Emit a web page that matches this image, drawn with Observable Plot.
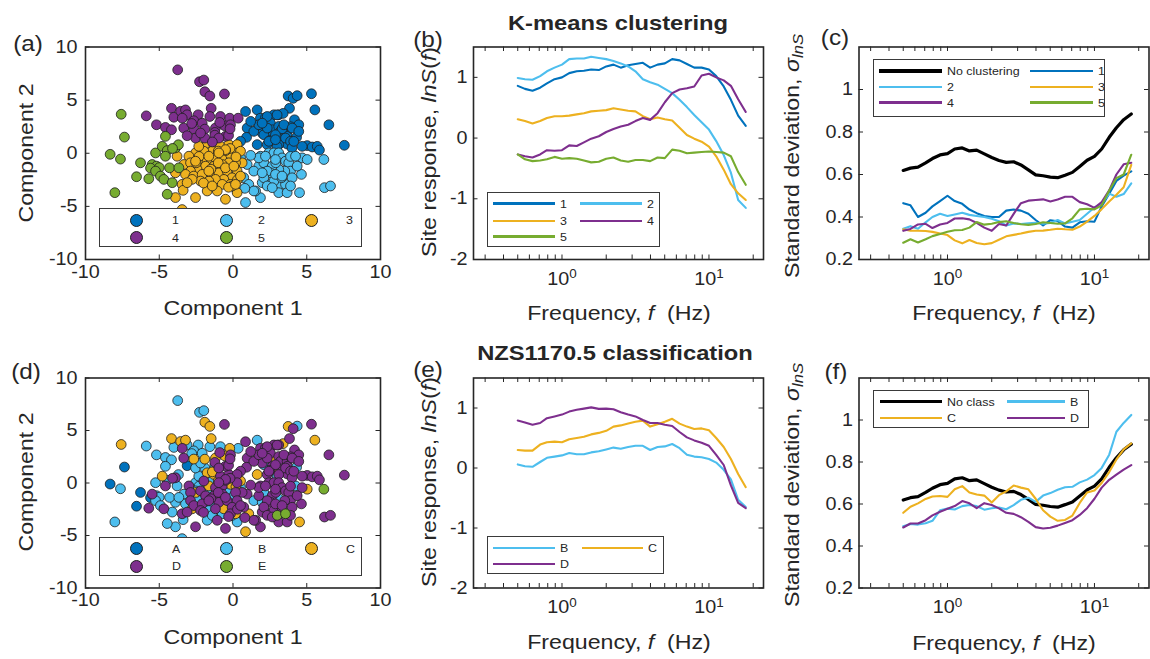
<!DOCTYPE html>
<html>
<head>
<meta charset="utf-8">
<script src="https://cdn.jsdelivr.net/npm/d3@7"></script>
<script src="https://cdn.jsdelivr.net/npm/@observablehq/plot@0.6"></script>
<style>
  body { margin: 0; background: #fff; }
  #fig { position: relative; width: 1150px; height: 659px; overflow: hidden; background: #fff;
         font-family: "Liberation Sans", Arial, sans-serif; color: #262626; }
  #fig svg { position: absolute; }
  .lbl { position: absolute; white-space: nowrap; line-height: 1; }
  .legend { position: absolute; background: #fff; border: 1px solid #3a3a3a; box-sizing: border-box; }
  .swatch { position: absolute; }
  .mk { position: absolute; border-radius: 50%; border: 0.8px solid #1e1e1e; box-sizing: border-box; }
</style>
</head>
<body>
<div id="fig"></div>
<script>
// ---------- colours ----------
const C1 = "#0072BD", C2 = "#4DBEEE", C3 = "#EDB120", C4 = "#7E2F8E", C5 = "#77AC30";
const classColor = {A: C1, B: C2, C: C3, D: C4, E: C5};
const INK = "#262626";

// ---------- principal components of each site: [component 1, component 2, NZS1170.5 class] ----------
const cluster1 = [[3.74,5.39,"C"],[4.08,5.17,"D"],[4.35,5.42,"B"],[5.32,5.6,"D"],[5.55,4.08,"C"],[3.83,4.23,"D"],[6.5,2.68,"D"],[7.55,0.75,"D"],[1.64,4.08,"B"],[1.86,3.3,"D"],[2.2,3.35,"D"],[2.77,3.62,"D"],[3.1,3.62,"D"],[3.4,3.75,"C"],[4.17,3.15,"D"],[4.46,2.68,"D"],[1.75,2.52,"D"],[1.98,1.9,"D"],[2.54,2.83,"D"],[2.66,2.21,"C"],[3.1,2.52,"D"],[3.22,2.06,"D"],[3.67,2.06,"D"],[3.67,1.59,"D"],[2.66,1.59,"D"],[4.31,1.5,"B"],[5.03,0.72,"D"],[5.37,0.59,"D"],[5.71,0.65,"D"],[5.86,0.3,"D"],[3.33,1.34,"D"],[3.67,0.87,"D"],[3.1,0.81,"D"],[1.64,0.81,"C"],[0.85,3.93,"D"],[0.96,2.37,"D"],[0.92,1.5,"D"],[0.51,1.12,"D"],[1.41,2.06,"D"],[2.09,1.74,"B"],[2.32,3.46,"D"],[2.99,3.61,"D"],[1.75,2.68,"D"],[3.33,2.3,"C"],[3.56,1.43,"D"],[3.9,1.12,"D"],[2.99,0.65,"B"],[2.32,0.81,"D"],[1.2,3.0,"D"],[2.5,1.2,"D"],[4.0,0.5,"D"],[3.9,2.5,"D"],[2.32,2.37,"D"],[2.88,1.74,"D"],[3.45,2.68,"D"],[4.01,2.37,"D"],[2.43,1.12,"D"],[2.88,1.28,"C"],[4.69,0.65,"D"],[1.98,2.83,"D"],[4.12,1.12,"D"],[4.46,2.06,"D"]];
const cluster2 = [[1.86,-0.28,"D"],[1.75,-1.21,"D"],[2.09,-0.9,"B"],[2.43,0.03,"D"],[2.77,0.03,"D"],[3.1,0.03,"D"],[3.33,-0.44,"D"],[3.56,-0.75,"D"],[3.78,-0.9,"D"],[3.9,-1.68,"D"],[3.51,-1.68,"D"],[3.1,-1.52,"B"],[2.66,-1.21,"D"],[2.54,-1.84,"D"],[2.32,-1.68,"D"],[1.98,-2.77,"D"],[2.43,-2.93,"D"],[3.0,-3.08,"E"],[3.22,-2.93,"D"],[3.56,-2.93,"E"],[3.1,-3.71,"D"],[3.67,-3.71,"D"],[4.51,-3.71,"C"],[1.86,-4.18,"D"],[4.64,-1.99,"D"],[4.69,-0.44,"D"],[5.03,-0.59,"C"],[6.16,-0.59,"E"],[6.2,-3.24,"D"],[6.61,-3.08,"D"],[1.53,-3.55,"D"],[2.77,-2.62,"D"],[0.96,-1.06,"D"],[1.41,-1.68,"B"],[0.73,-2.3,"D"],[1.07,-2.93,"C"],[0.28,-3.55,"B"],[0.85,-4.64,"C"],[1.41,-3.55,"D"],[2.09,-2.3,"D"],[1.75,-0.43,"D"],[0.51,-0.43,"B"],[2.32,-3.08,"D"],[3.9,-0.3,"D"],[1.2,-0.2,"D"],[3.3,-2.3,"D"],[2.9,-0.9,"D"],[0.8,-3.3,"D"],[2.2,-0.28,"D"],[2.88,-0.59,"D"],[4.24,-0.28,"B"],[4.35,-1.21,"D"],[2.88,-1.99,"D"],[4.01,-2.31,"D"],[1.98,-1.84,"B"],[2.66,-3.24,"D"],[3.9,-3.08,"D"],[3.33,-2.15,"D"]];
const cluster3 = [[-1.75,0.97,"C"],[-1.3,0.81,"C"],[-0.85,0.65,"D"],[-0.28,0.81,"D"],[0.28,0.81,"D"],[-1.41,0.19,"B"],[-1.98,0.19,"D"],[-2.54,0.03,"B"],[-2.99,-0.28,"D"],[-3.33,-1.06,"B"],[-2.88,-0.9,"D"],[-2.2,-0.75,"D"],[-1.75,-0.59,"B"],[-1.19,-0.44,"D"],[-0.73,-0.28,"D"],[-0.17,-0.13,"C"],[0.28,0.03,"D"],[0.62,-0.9,"D"],[0.17,-0.9,"D"],[-0.28,-0.9,"B"],[-0.73,-1.06,"D"],[-1.3,-1.22,"D"],[-1.86,-1.22,"D"],[-2.43,-1.53,"B"],[-2.88,-1.68,"D"],[-3.22,-1.99,"B"],[-2.66,-2.15,"D"],[-2.09,-1.99,"D"],[-1.53,-1.84,"B"],[-0.96,-1.84,"D"],[-0.4,-1.68,"D"],[0.28,-1.68,"D"],[-0.06,-2.31,"D"],[-0.62,-2.46,"C"],[-1.19,-2.46,"D"],[-1.64,-2.62,"B"],[-2.2,-2.62,"D"],[-2.77,-2.46,"C"],[-0.17,-2.93,"D"],[-0.73,-2.93,"B"],[-1.75,-3.55,"B"],[-1.07,-3.55,"D"],[-0.51,-4.33,"D"],[0.28,-3.71,"B"],[0.51,0.19,"C"],[-3.79,-0.28,"B"],[-3.9,-1.84,"B"],[-3.9,-4.17,"B"],[-2.54,-4.17,"D"],[-3.45,-2.93,"D"],[-3.38,-3.49,"B"],[-0.05,-3.08,"B"],[-3.45,-5.3,"B"],[-0.2,0.45,"D"],[0.2,-0.35,"C"],[-0.5,0.25,"D"],[-1.0,0.2,"C"],[-2.3,-0.3,"B"],[-1.5,-1.5,"D"],[-2.0,-2.8,"D"],[0.3,-2.5,"D"],[-0.3,-3.2,"D"],[-1.0,-0.9,"D"],[-2.5,-0.9,"C"],[-2.32,0.65,"B"],[-0.51,0.34,"D"],[-0.96,0.03,"D"],[-1.64,-0.28,"C"],[-2.54,-0.75,"B"],[-0.51,-1.37,"D"],[-1.64,-1.68,"D"],[0.06,-1.22,"B"],[-3.11,-2.77,"D"],[-1.41,-3.08,"B"],[0.51,-2.15,"D"],[0.17,-2.93,"C"]];
const cluster4 = [[-3.75,7.85,"B"],[-2.27,6.73,"B"],[-1.98,6.89,"B"],[-1.91,5.79,"C"],[-1.57,5.39,"C"],[-0.58,5.58,"D"],[-5.88,3.52,"B"],[-4.17,4.23,"C"],[-4.01,3.39,"B"],[-3.55,3.95,"C"],[-3.22,4.08,"C"],[-3.11,3.62,"B"],[-3.44,3.3,"D"],[-1.48,4.23,"C"],[-2.36,3.62,"B"],[-1.57,3.46,"B"],[-0.85,3.46,"B"],[-0.22,3.3,"C"],[0.35,3.3,"B"],[-2.66,3.06,"B"],[-2.09,2.83,"B"],[-3.34,2.37,"D"],[-2.66,2.28,"C"],[-1.91,2.27,"C"],[-1.19,2.37,"C"],[-0.56,2.59,"C"],[-0.17,2.68,"D"],[-1.23,1.96,"D"],[-0.51,1.59,"D"],[-2.54,1.43,"B"],[-1.91,1.43,"B"],[-1.23,1.7,"B"],[-3.11,1.65,"A"],[-5.19,2.68,"B"],[-4.58,2.43,"B"],[-4.17,2.21,"B"],[-0.3,1.68,"D"],[-0.96,1.43,"D"],[-1.4,1.06,"C"],[-2.8,2.8,"B"],[-0.9,2.9,"D"],[-2.2,1.9,"B"],[-0.2,2.3,"D"]];
const cluster5 = [[-7.58,3.67,"C"],[-7.36,1.52,"A"],[-8.33,-0.1,"A"],[-7.63,-0.55,"B"],[-8.01,-3.71,"B"],[-6.27,-0.9,"A"],[-6.54,-2.21,"A"],[-5.71,-2.4,"D"],[-5.25,0.03,"B"],[-4.58,1.59,"B"],[-4.8,0.65,"C"],[-4.46,0.25,"B"],[-3.9,0.5,"D"],[-4.58,-0.28,"D"],[-5.48,-1.06,"D"],[-5.19,-1.21,"B"],[-5.0,-1.35,"B"],[-5.59,-1.4,"A"],[-5.25,-1.68,"B"],[-4.92,-2.15,"B"],[-4.69,-2.46,"D"],[-4.12,-2.77,"B"],[-4.3,-1.37,"B"],[-3.67,-1.37,"B"],[-4.46,-3.86,"B"],[-3.7,0.8,"B"],[-4.1,0.45,"D"]];
const clusterColors = [C1, C2, C3, C4, C5];
const clusterNames = ["1", "2", "3", "4", "5"];
const classNames = ["A", "B", "C", "D", "E"];

// ---------- frequencies (Hz) ----------
const freq = [0.5,0.56,0.63,0.71,0.79,0.89,1.0,1.12,1.26,1.41,1.58,1.78,2.0,2.24,2.51,2.82,3.16,3.55,3.98,4.47,5.01,5.62,6.31,7.08,7.94,8.91,10.0,11.2,12.6,14.1,15.8,17.8];

// ---------- mean site response lnS(f) per K-means cluster ----------
const lnS_k1 = [0.86,0.81,0.78,0.83,0.9,0.97,1.0,1.07,1.1,1.11,1.13,1.12,1.18,1.21,1.16,1.2,1.22,1.24,1.16,1.21,1.23,1.3,1.28,1.22,1.16,1.16,1.13,1.02,0.85,0.63,0.37,0.2];
const lnS_k2 = [0.99,0.97,0.96,1.02,1.1,1.16,1.21,1.3,1.31,1.31,1.34,1.32,1.3,1.27,1.23,1.18,1.1,0.97,0.92,0.88,0.81,0.74,0.63,0.51,0.38,0.26,0.14,-0.05,-0.28,-0.57,-1.02,-1.15];
const lnS_k3 = [0.31,0.28,0.24,0.28,0.33,0.36,0.36,0.37,0.39,0.41,0.44,0.45,0.46,0.49,0.47,0.45,0.44,0.36,0.31,0.34,0.31,0.29,0.17,0.05,-0.01,-0.06,-0.14,-0.3,-0.52,-0.76,-0.91,-1.02];
const lnS_k4 = [-0.27,-0.3,-0.32,-0.27,-0.2,-0.21,-0.2,-0.12,-0.13,-0.07,-0.01,0.03,0.1,0.15,0.19,0.22,0.28,0.33,0.3,0.41,0.59,0.74,0.8,0.82,0.85,1.03,1.06,1.0,0.95,0.86,0.64,0.43];
const lnS_k5 = [-0.27,-0.35,-0.38,-0.37,-0.35,-0.31,-0.34,-0.33,-0.34,-0.37,-0.4,-0.39,-0.34,-0.32,-0.37,-0.39,-0.36,-0.36,-0.38,-0.32,-0.33,-0.19,-0.21,-0.25,-0.24,-0.23,-0.22,-0.23,-0.24,-0.3,-0.56,-0.77];

// ---------- standard deviation of lnS ----------
const sd_total = [0.619,0.63,0.635,0.655,0.675,0.692,0.698,0.72,0.725,0.711,0.715,0.697,0.68,0.666,0.657,0.66,0.645,0.622,0.598,0.594,0.588,0.585,0.597,0.61,0.638,0.667,0.685,0.72,0.775,0.82,0.858,0.885];
const sd_k1 = [0.465,0.455,0.40,0.42,0.45,0.475,0.50,0.475,0.462,0.435,0.418,0.405,0.40,0.40,0.43,0.435,0.43,0.415,0.386,0.36,0.385,0.38,0.355,0.35,0.375,0.38,0.378,0.45,0.51,0.57,0.595,0.615];
const sd_k2 = [0.345,0.357,0.345,0.375,0.40,0.415,0.405,0.412,0.42,0.41,0.405,0.40,0.392,0.38,0.36,0.37,0.367,0.37,0.373,0.368,0.372,0.386,0.37,0.378,0.386,0.415,0.445,0.463,0.51,0.495,0.508,0.558];
const sd_k3 = [0.342,0.336,0.335,0.334,0.33,0.322,0.315,0.29,0.276,0.292,0.278,0.272,0.277,0.293,0.309,0.316,0.322,0.33,0.335,0.336,0.34,0.345,0.342,0.34,0.355,0.378,0.405,0.437,0.473,0.505,0.54,0.645];
const sd_k4 = [0.335,0.344,0.365,0.368,0.348,0.365,0.372,0.393,0.394,0.389,0.372,0.35,0.335,0.367,0.36,0.415,0.465,0.477,0.48,0.483,0.473,0.482,0.495,0.495,0.47,0.46,0.443,0.47,0.525,0.6,0.648,0.655];
const sd_k5 = [0.279,0.295,0.28,0.295,0.31,0.32,0.331,0.338,0.339,0.35,0.376,0.364,0.368,0.376,0.38,0.372,0.366,0.363,0.367,0.375,0.372,0.368,0.37,0.394,0.436,0.439,0.436,0.455,0.525,0.583,0.6,0.693];

// ---------- NZS1170.5 site classes ----------
const lnS_B = [0.06,0.03,0.02,0.1,0.17,0.19,0.21,0.25,0.23,0.23,0.26,0.28,0.31,0.34,0.32,0.35,0.37,0.37,0.3,0.35,0.36,0.4,0.33,0.22,0.19,0.18,0.15,0.09,-0.03,-0.19,-0.53,-0.65];
const lnS_C = [0.3,0.29,0.29,0.39,0.43,0.44,0.43,0.48,0.5,0.52,0.56,0.585,0.62,0.69,0.71,0.74,0.77,0.79,0.69,0.73,0.77,0.82,0.74,0.69,0.65,0.66,0.63,0.5,0.35,0.15,-0.1,-0.32];
const lnS_D = [0.79,0.76,0.72,0.75,0.83,0.86,0.89,0.94,0.97,0.99,1.01,0.985,0.99,0.98,0.93,0.89,0.86,0.8,0.75,0.75,0.72,0.7,0.6,0.51,0.46,0.42,0.37,0.22,0.05,-0.29,-0.58,-0.67];
const sd_B = [0.494,0.505,0.502,0.508,0.52,0.57,0.578,0.574,0.59,0.595,0.59,0.573,0.58,0.583,0.575,0.595,0.62,0.63,0.61,0.64,0.652,0.668,0.68,0.682,0.703,0.716,0.738,0.772,0.835,0.944,0.986,1.024];
const sd_C = [0.558,0.587,0.603,0.624,0.636,0.638,0.634,0.67,0.685,0.655,0.645,0.64,0.607,0.642,0.66,0.688,0.678,0.67,0.625,0.57,0.54,0.52,0.524,0.545,0.605,0.655,0.664,0.7,0.752,0.812,0.86,0.889];
const sd_D = [0.488,0.507,0.507,0.523,0.546,0.563,0.577,0.59,0.614,0.603,0.58,0.604,0.595,0.579,0.558,0.553,0.537,0.515,0.49,0.483,0.487,0.497,0.51,0.523,0.548,0.58,0.625,0.678,0.715,0.74,0.764,0.785];

// ---------- axis ticks ----------
const pcTicks = [-10, -5, 0, 5, 10];
const freqMajor = [1, 10];
const freqMinor = [0.3,0.4,0.5,0.6,0.7,0.8,0.9,2,3,4,5,6,7,8,9,20];
const lnSTicks = [-2, -1, 0, 1];
const sdTicks = [0.2, 0.4, 0.6, 0.8, 1];

// ---------- layout ----------
const S = 1.13;           // horizontal widening of all lettering
const cols = [{x0: 0, w: 395, l: 85, r: 380}, {x0: 395, w: 385, l: 473, r: 763}, {x0: 780, w: 370, l: 858.5, r: 1148.5}];
const rows = [{y0: 0, h: 330, t: 46.5, b: 259}, {y0: 330, h: 329, t: 377.5, b: 587.5}];
const fig = document.getElementById("fig");

function widenText(svg) {
  svg.querySelectorAll("text").forEach(t => {
    const m = /^10\^(\d)$/.exec(t.textContent);
    if (m) {
      t.textContent = "10";
      const sup = document.createElementNS("http://www.w3.org/2000/svg", "tspan");
      sup.setAttribute("dy", "-0.55em");
      sup.setAttribute("font-size", "0.68em");
      sup.textContent = m[1];
      t.appendChild(sup);
    }
    const tr = t.getAttribute("transform") || "";
    const x = parseFloat(t.getAttribute("x")) || 0;
    t.setAttribute("transform", `${tr} translate(${x},0) scale(${S},1) translate(${-x},0)`);
  });
}

function panel(ci, ri, {x, y, xTicks, xMinor = [], yTicks, xFmt, yFmt = String, xPad, yPad, marks}) {
  const c = cols[ci], r = rows[ri];
  const iw = c.r - c.l, ih = r.b - r.t, tl = 4.5;
  const allX = [...xTicks, ...xMinor];
  const tk = {stroke: INK, strokeWidth: 1};
  const svg = Plot.plot({
    width: c.w, height: r.h,
    marginLeft: c.l - c.x0, marginRight: c.x0 + c.w - c.r,
    marginTop: r.t - r.y0, marginBottom: r.y0 + r.h - r.b,
    x, y,
    style: {fontFamily: "Liberation Sans, Arial, sans-serif", fontSize: "17.5px", color: INK, background: "transparent", overflow: "visible"},
    marks: [
      ...marks,
      Plot.tickX(allX, {x: d => d, insetTop: ih - tl, ...tk}),
      Plot.tickX(allX, {x: d => d, insetBottom: ih - tl, ...tk}),
      Plot.tickY(yTicks, {y: d => d, insetRight: iw - tl, ...tk}),
      Plot.tickY(yTicks, {y: d => d, insetLeft: iw - tl, ...tk}),
      Plot.axisX(xTicks, {tickSize: 0, tickPadding: xPad, tickFormat: xFmt, label: null, fill: INK}),
      Plot.axisY(yTicks, {tickSize: 0, tickPadding: yPad, tickFormat: yFmt, label: null, fill: INK}),
      Plot.frame({stroke: INK, strokeWidth: 1.6})
    ]
  });
  widenText(svg);
  svg.style.left = c.x0 + "px";
  svg.style.top = r.y0 + "px";
  fig.appendChild(svg);
}

const toPts = arr => arr.map(([px, py, cls]) => ({px, py, cls}));
const series = arr => freq.map((f, i) => ({f, v: arr[i]}));
const curve = (arr, color, w = 2.1) => Plot.line(series(arr), {x: "f", y: "v", stroke: color, strokeWidth: w, strokeLinejoin: "round"});
const dotStyle = {x: "px", y: "py", r: 4.9, stroke: "#1e1e1e", strokeWidth: 0.8};
const logX = {type: "log", domain: [0.25, 23.5]};
const logFmt = d => (d === 1 ? "10^0" : "10^1");

// (a) PCA coloured by K-means cluster
const clusters = [cluster1, cluster2, cluster3, cluster4, cluster5];
panel(0, 0, {
  x: {domain: [-10, 10]}, y: {domain: [-10, 10]},
  xTicks: pcTicks, yTicks: pcTicks, xFmt: String, xPad: 6, yPad: 8,
  marks: clusters.map((cl, k) => Plot.dot(toPts(cl), {...dotStyle, fill: clusterColors[k]}))
});

// (d) PCA coloured by site class
const allSites = clusters.flatMap(toPts).sort((a, b) => d3.ascending(a.cls, b.cls));
panel(0, 1, {
  x: {domain: [-10, 10]}, y: {domain: [-10, 10]},
  xTicks: pcTicks, yTicks: pcTicks, xFmt: String, xPad: 6, yPad: 8,
  marks: [Plot.dot(allSites, {...dotStyle, fill: d => classColor[d.cls]})]
});

// (b) mean site response per cluster
panel(1, 0, {
  x: logX, y: {domain: [-2, 1.5]},
  xTicks: freqMajor, xMinor: freqMinor, yTicks: lnSTicks, xFmt: logFmt, xPad: 13, yPad: 6,
  marks: [curve(lnS_k1, C1), curve(lnS_k2, C2), curve(lnS_k3, C3), curve(lnS_k4, C4), curve(lnS_k5, C5)]
});

// (c) standard deviation per cluster
panel(2, 0, {
  x: logX, y: {domain: [0.2, 1.2]},
  xTicks: freqMajor, xMinor: freqMinor, yTicks: sdTicks, xFmt: logFmt, xPad: 13, yPad: 6,
  marks: [curve(sd_total, "#000", 3.2), curve(sd_k1, C1), curve(sd_k2, C2), curve(sd_k3, C3), curve(sd_k4, C4), curve(sd_k5, C5)]
});

// (e) mean site response per class
panel(1, 1, {
  x: logX, y: {domain: [-2, 1.5]},
  xTicks: freqMajor, xMinor: freqMinor, yTicks: lnSTicks, xFmt: logFmt, xPad: 13, yPad: 6,
  marks: [curve(lnS_B, C2), curve(lnS_C, C3), curve(lnS_D, C4)]
});

// (f) standard deviation per class
panel(2, 1, {
  x: logX, y: {domain: [0.2, 1.2]},
  xTicks: freqMajor, xMinor: freqMinor, yTicks: sdTicks, xFmt: logFmt, xPad: 13, yPad: 6,
  marks: [curve(sd_total, "#000", 3.2), curve(sd_B, C2), curve(sd_C, C3), curve(sd_D, C4)]
});

// ---------- lettering ----------
function put(html, x, y, {size = 20.5, bold = false, rotate = 0, align = "center"} = {}) {
  const d = document.createElement("div");
  d.className = "lbl";
  d.innerHTML = html;
  d.style.left = x + "px";
  d.style.top = y + "px";
  d.style.fontSize = size + "px";
  if (bold) d.style.fontWeight = "bold";
  const tx = align === "center" ? "-50%" : "0";
  d.style.transformOrigin = align === "center" ? "50% 50%" : "0 50%";
  d.style.transform = `translate(${tx},-50%)${rotate ? ` rotate(${rotate}deg)` : ""} scaleX(${S})`;
  fig.appendChild(d);
}

// ---------- legends ----------
function box(l, t, r, b) {
  const d = document.createElement("div");
  d.className = "legend";
  Object.assign(d.style, {left: l + "px", top: t + "px", width: (r - l) + "px", height: (b - t) + "px"});
  fig.appendChild(d);
}
function swatchLine(x0, x1, y, color, w = 2.6) {
  const d = document.createElement("div");
  d.className = "swatch";
  Object.assign(d.style, {left: x0 + "px", top: (y - w / 2) + "px", width: (x1 - x0) + "px", height: w + "px", background: color});
  fig.appendChild(d);
}
function swatchDot(cx, cy, color, r = 6.5) {
  const d = document.createElement("div");
  d.className = "mk";
  Object.assign(d.style, {left: (cx - r) + "px", top: (cy - r) + "px", width: 2 * r + "px", height: 2 * r + "px", background: color});
  fig.appendChild(d);
}
const legText = (t, x, y) => put(t, x, y, {size: 11, align: "left"});

// (a) / (d) marker legends, three columns
function markerLegend(top, bottom, rowsY, names, colors) {
  box(99, top, 362, bottom);
  const mx = [136, 226, 311], lx = [172, 258, 346];
  names.forEach((n, i) => {
    const row = Math.floor(i / 3), col = i % 3;
    swatchDot(mx[col], rowsY[row], colors[i]);
    legText(n, lx[col], rowsY[row]);
  });
}
markerLegend(208, 247, [220, 237.5], clusterNames, clusterColors);
markerLegend(537, 576, [548.5, 566], classNames, [C1, C2, C3, C4, C5]);

// line legends, two columns
function lineLegend(l, t, r, b, rowsY, c1, c2, items) {
  box(l, t, r, b);
  items.forEach(([name, color, w], i) => {
    const row = Math.floor(i / 2), c = i % 2 ? c2 : c1;
    swatchLine(c[0], c[1], rowsY[row], color, w);
    legText(name, c[1] + 5, rowsY[row]);
  });
}
lineLegend(487, 192, 660, 247, [203.5, 221, 236.5], [493, 555], [580, 642],
  [["1", C1], ["2", C2], ["3", C3], ["4", C4], ["5", C5]]);
lineLegend(873, 59, 1105, 117, [71, 87, 102.5], [879, 942], [1030, 1093],
  [["No clustering", "#000", 3.6], ["1", C1], ["2", C2], ["3", C3], ["4", C4], ["5", C5]]);
lineLegend(487, 536, 664, 574, [548, 564], [493, 555], [582, 643],
  [["B", C2], ["C", C3], ["D", C4]]);
lineLegend(873, 390, 1089, 428, [401.5, 418], [880, 942], [1007, 1065],
  [["No class", "#000", 3.6], ["B", C2], ["C", C3], ["D", C4]]);

// titles
put("K-means clustering", 618, 22, {size: 21, bold: true});
put("NZS1170.5 classification", 615, 352, {size: 21, bold: true});

// axis titles
const freqLabel = "Frequency, <i>f</i>&nbsp;&nbsp;(Hz)";
const siteLabel = "Site response, <i>lnS</i>(<i>f</i>)";
const sdLabel = "Standard deviation, <i>&sigma;</i><span style=\"font-size:0.72em;position:relative;top:0.3em\"><i>lnS</i></span>";
put("Component 1", 232.5, 308);
put("Component 1", 232.5, 637);
put("Component 2", 26, 153, {rotate: -90});
put("Component 2", 26, 482, {rotate: -90});
put(freqLabel, 619, 313);
put(freqLabel, 1004, 313);
put(freqLabel, 619, 642);
put(freqLabel, 1004, 643);
put(siteLabel, 429, 152, {rotate: -90});
put(siteLabel, 429, 482, {rotate: -90});
put(sdLabel, 792, 156, {rotate: -90});
put(sdLabel, 792, 485, {rotate: -90});

// panel letters
const letter = (t, x, y) => put(t, x, y, {size: 21.5});
letter("(a)", 28, 44.5);
letter("(b)", 428, 41);
letter("(c)", 834.5, 39);
letter("(d)", 26, 373);
letter("(e)", 428, 371);
letter("(f)", 836, 373);
</script>
</body>
</html>
